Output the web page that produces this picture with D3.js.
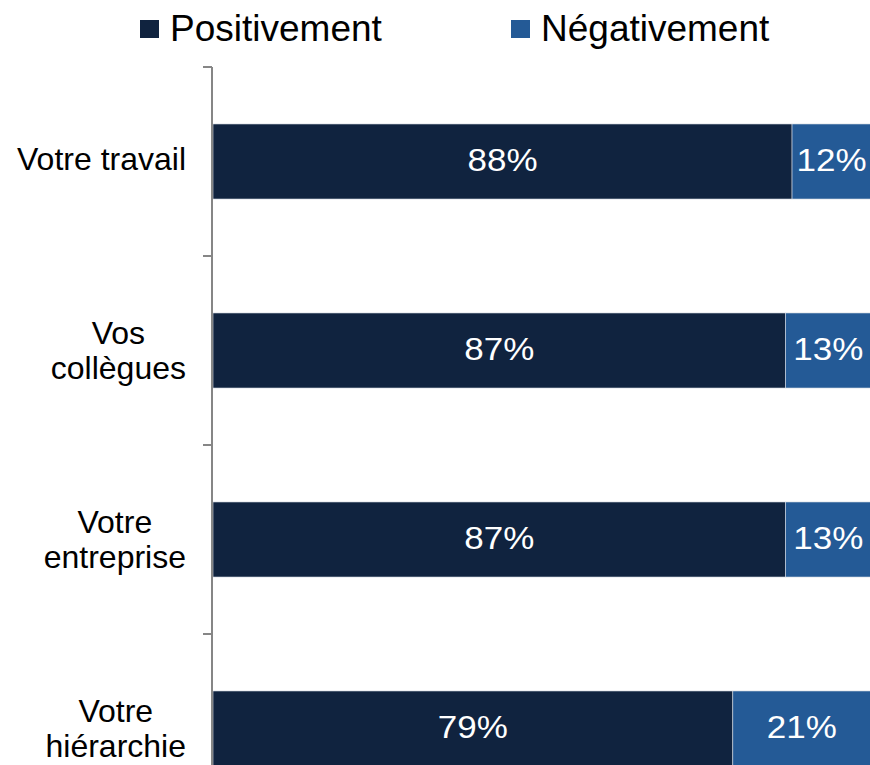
<!DOCTYPE html>
<html lang="fr">
<head>
<meta charset="utf-8">
<title>Chart</title>
<script src="https://cdn.jsdelivr.net/npm/d3@7"></script>
<style>
  body { margin: 0; background: #fff; }
  svg { display: block; font-family: "Liberation Sans", Arial, sans-serif; }
</style>
</head>
<body>
<svg width="870" height="765"></svg>
<script>
  // data
  var categories = ["Votre travail", "Vos\ncollègues", "Votre\nentreprise", "Votre\nhiérarchie"];
  var positive = [88, 87, 87, 79];
  var negative = [12, 13, 13, 21];
  var seriesNames = ["Positivement", "Négativement"];
  var colors = ["#10233f", "#245a96"];

  var svg = d3.select("svg");
  var plotLeft = 213, plotRight = 871, plotTop = 67;

  var x = d3.scaleLinear().domain([0, 100]).range([plotLeft, plotRight]);
  var y = d3.scaleBand().domain(categories).range([plotTop, plotTop + 189 * 4]).paddingInner(0.603).paddingOuter(0.3015);

  var rows = categories.map(function(c, i) {
    return { cat: c, pos: positive[i], neg: negative[i] };
  });

  var stack = d3.stack().keys(["pos", "neg"])(rows);

  var layer = svg.selectAll("g.layer").data(stack).enter().append("g")
      .attr("class", "layer")
      .attr("fill", function(d, i) { return colors[i]; });

  layer.selectAll("rect").data(function(d) { return d; }).enter().append("rect")
      .attr("x", function(d) { return x(d[0]); })
      .attr("y", function(d) { return y(d.data.cat); })
      .attr("width", function(d) { return x(d[1]) - x(d[0]); })
      .attr("height", y.bandwidth())
      .attr("stroke", "#d9dde4")
      .attr("stroke-width", 0.6);

  // value labels, slightly wide like the original
  layer.selectAll("text").data(function(d) { return d; }).enter().append("text")
      .attr("transform", function(d) {
        var cx = (x(d[0]) + x(d[1])) / 2;
        var cy = y(d.data.cat) + y.bandwidth() / 2;
        return "translate(" + cx + "," + cy + ") scale(1.13,1)";
      })
      .attr("dy", "0.3em")
      .attr("text-anchor", "middle")
      .attr("fill", "#fff")
      .attr("font-size", 31)
      .text(function(d) { return (d[1] - d[0]) + "%"; });

  // axis with outer ticks between bands
  var axisG = svg.append("g").attr("stroke", "#868686").attr("stroke-width", 2);
  axisG.append("line").attr("x1", 212).attr("x2", 212).attr("y1", plotTop).attr("y2", 765);
  var tickYs = categories.map(function(c) { return y(c) - y.step() * y.paddingInner() / 2; });
  tickYs.push(plotTop + 189 * 4);
  axisG.selectAll("line.tick").data(tickYs).enter().append("line")
      .attr("class", "tick")
      .attr("x1", 203).attr("x2", 212)
      .attr("y1", function(d) { return d; }).attr("y2", function(d) { return d; });

  // category labels: lines centred, block right-aligned next to the ticks
  var labels = svg.selectAll("text.cat").data(categories).enter().append("text")
      .attr("class", "cat")
      .attr("font-size", 32)
      .attr("fill", "#000")
      .attr("text-anchor", "middle");

  labels.each(function(c) {
    var lines = c.split("\n");
    var t = d3.select(this);
    var cy = y(c) + y.bandwidth() / 2;
    var lh = 35;
    lines.forEach(function(l, i) {
      t.append("tspan").text(l)
        .attr("x", 0)
        .attr("y", cy + (i - (lines.length - 1) / 2) * lh)
        .attr("dy", lines.length > 1 ? "0.35em" : "0.28em");
    });
    var w = this.getBBox().width;
    t.selectAll("tspan").attr("x", 186 - w / 2);
  });

  // legend
  var legendX = [140, 511];
  var leg = svg.selectAll("g.legend").data(seriesNames).enter().append("g")
      .attr("class", "legend")
      .attr("transform", function(d, i) { return "translate(" + legendX[i] + ",0)"; });
  leg.append("rect").attr("x", 0).attr("y", 20).attr("width", 19).attr("height", 18)
      .attr("fill", function(d, i) { return colors[i]; });
  leg.append("text").attr("x", 30).attr("y", 41).attr("font-size", 37).attr("fill", "#000")
      .text(function(d) { return d; });
</script>
</body>
</html>
